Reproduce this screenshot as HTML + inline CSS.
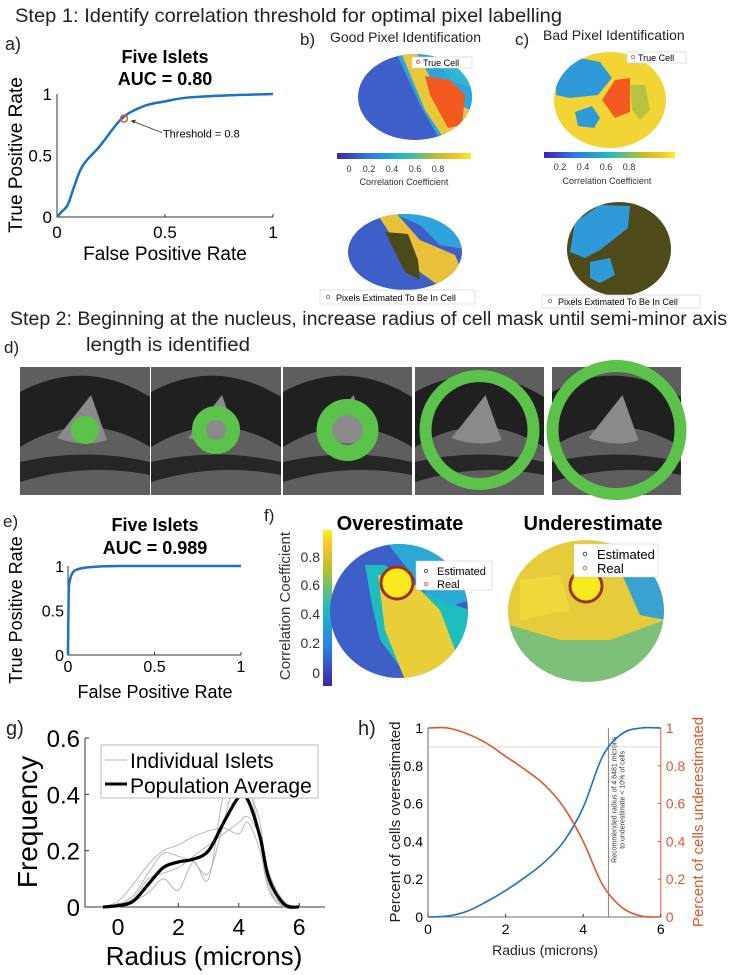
<!DOCTYPE html>
<html><head><meta charset="utf-8">
<style>
html,body{margin:0;padding:0;background:#fff;}
svg{display:block;font-family:"Liberation Sans",sans-serif;}
.hd{font-family:"Liberation Sans",sans-serif;font-size:19px;fill:#222;}
</style></head>
<body>
<svg id="fig" width="730" height="975" viewBox="0 0 730 975" xmlns="http://www.w3.org/2000/svg">
<defs>
<linearGradient id="parula" x1="0" x2="1" y1="0" y2="0">
<stop offset="0" stop-color="#3e26a8"/><stop offset="0.25" stop-color="#2c7fe8"/><stop offset="0.5" stop-color="#1fbcbd"/><stop offset="0.75" stop-color="#b8c12a"/><stop offset="0.9" stop-color="#f9c22e"/><stop offset="1" stop-color="#f8f418"/>
</linearGradient>
<linearGradient id="parulaV" x1="0" x2="0" y1="1" y2="0">
<stop offset="0" stop-color="#3e26a8"/><stop offset="0.25" stop-color="#2c7fe8"/><stop offset="0.5" stop-color="#1fbcbd"/><stop offset="0.75" stop-color="#b8c12a"/><stop offset="0.9" stop-color="#f9c22e"/><stop offset="1" stop-color="#f8f418"/>
</linearGradient>
<clipPath id="cb1"><ellipse cx="415" cy="97" rx="57" ry="43"/></clipPath>
<clipPath id="cc1"><ellipse cx="610" cy="100" rx="56" ry="48"/></clipPath>
<clipPath id="cb2"><ellipse cx="405" cy="252" rx="57" ry="38"/></clipPath>
<clipPath id="cc2"><ellipse cx="619" cy="249" rx="52" ry="47"/></clipPath>
<clipPath id="cf1"><ellipse cx="399" cy="611" rx="69" ry="67"/></clipPath>
<clipPath id="cf2"><ellipse cx="586" cy="611" rx="78" ry="71"/></clipPath>
</defs>

<text class="hd" x="15" y="22" textLength="547" lengthAdjust="spacingAndGlyphs">Step 1: Identify correlation threshold for optimal pixel labelling</text>

<g id="pa">
<text x="5" y="50" font-size="18" fill="#222">a)</text>
<text x="165" y="63" font-size="18" font-weight="bold" text-anchor="middle">Five Islets</text>
<text x="165" y="85" font-size="18" font-weight="bold" text-anchor="middle">AUC = 0.80</text>
<text transform="translate(22,155) rotate(-90)" font-size="19" text-anchor="middle">True Positive Rate</text>
<text x="165" y="260" font-size="19" text-anchor="middle">False Positive Rate</text>
</g>

<g>
<text x="300" y="45" font-size="17" fill="#222">b)</text>
<text x="330" y="42" font-size="14" fill="#222">Good Pixel Identification</text>
<g clip-path="url(#cb1)">
<rect x="350" y="50" width="130" height="100" fill="#3f5fc8"/>
<path d="M395 50 L480 50 L480 130 L440 140 L420 105 Z" fill="#2fa3dc"/>
<path d="M400 50 L415 50 L440 95 L470 110 L480 140 L445 140 L425 110 Z" fill="#e8c83a"/>
<path d="M430 50 L470 50 L475 90 L450 80 Z" fill="#30b4d0"/>
<path d="M425 76 L450 80 L465 95 L462 125 L448 128 L430 95 Z" fill="#f35a22"/>
</g>
<rect x="412" y="57" width="60" height="11" fill="#fff" stroke="#ccc" stroke-width="0.6"/>
<circle cx="418" cy="62" r="1.6" fill="none" stroke="#e66"/>
<text x="423" y="66" font-size="9">True Cell</text>
<rect x="337" y="153" width="134" height="6" fill="url(#parula)"/>
<g font-size="9" fill="#333" text-anchor="middle">
<text x="349" y="172">0</text><text x="369" y="172">0.2</text><text x="392" y="172">0.4</text><text x="415" y="172">0.6</text><text x="438" y="172">0.8</text>
<text x="404" y="185">Correlation Coefficient</text>
</g>
<g clip-path="url(#cb2)">
<rect x="345" y="210" width="125" height="85" fill="#3f5fc8"/>
<path d="M385 210 L470 210 L470 250 L440 245 L420 225 Z" fill="#2fa3dc"/>
<path d="M376 212 L395 212 L420 240 L455 255 L470 290 L445 290 L410 265 Z" fill="#e8c03a"/>
<path d="M385 232 L408 234 L418 260 L420 280 L405 272 Z" fill="#4a4a18"/>
</g>
<rect x="320" y="290" width="155" height="14" fill="#fff" stroke="#ccc" stroke-width="0.6"/>
<circle cx="328" cy="297" r="1.6" fill="none" stroke="#888"/>
<text x="336" y="301" font-size="9">Pixels Extimated To Be In Cell</text>
</g>

<g>
<text x="515" y="45" font-size="17" fill="#222">c)</text>
<text x="543" y="40" font-size="14" fill="#222">Bad Pixel Identification</text>
<g clip-path="url(#cc1)">
<rect x="550" y="50" width="125" height="100" fill="#f2d534"/>
<path d="M556 72 L580 58 L600 62 L612 78 L598 95 L570 98 L556 95 Z" fill="#2f9ad8"/>
<path d="M575 112 L592 106 L600 118 L594 128 L578 126 Z" fill="#2f9ad8"/>
<path d="M630 85 L645 85 L650 110 L640 120 L632 110 Z" fill="#b8c240"/>
<path d="M615 80 L630 78 L630 112 L615 118 L602 100 Z" fill="#f35a22"/>
</g>
<rect x="627" y="52" width="59" height="11" fill="#fff" stroke="#ccc" stroke-width="0.6"/>
<circle cx="633" cy="57" r="1.6" fill="none" stroke="#e66"/>
<text x="638" y="61" font-size="9">True Cell</text>
<rect x="544" y="152" width="131" height="6" fill="url(#parula)"/>
<g font-size="9" fill="#333" text-anchor="middle">
<text x="560" y="170">0.2</text><text x="583" y="170">0.4</text><text x="606" y="170">0.6</text><text x="629" y="170">0.8</text>
<text x="607" y="184">Correlation Coefficient</text>
</g>
<g clip-path="url(#cc2)">
<rect x="565" y="200" width="110" height="100" fill="#4e4a1a"/>
<path d="M575 222 L600 205 L630 206 L628 228 L600 250 L585 258 L570 252 Z" fill="#2f9ad8"/>
<path d="M590 262 L610 258 L615 275 L600 283 L590 278 Z" fill="#2f9ad8"/>
</g>
<rect x="542" y="295" width="158" height="13" fill="#fff" stroke="#ccc" stroke-width="0.6"/>
<circle cx="550" cy="301" r="1.6" fill="none" stroke="#888"/>
<text x="558" y="305" font-size="9">Pixels Extimated To Be In Cell</text>
</g>

<text class="hd" x="10" y="325" textLength="717" lengthAdjust="spacingAndGlyphs">Step 2: Beginning at the nucleus, increase radius of cell mask until semi-minor axis</text>
<text x="4" y="353" font-size="17" fill="#222">d)</text>
<text class="hd" x="86" y="351" textLength="164" lengthAdjust="spacingAndGlyphs">length is identified</text>

<g id="pd"></g>

<g id="pe">
<text x="3" y="527" font-size="17" fill="#222">e)</text>
<text x="155" y="531" font-size="18" font-weight="bold" text-anchor="middle">Five Islets</text>
<text x="155" y="554" font-size="18" font-weight="bold" text-anchor="middle">AUC = 0.989</text>
<text transform="translate(22,610) rotate(-90)" font-size="18" text-anchor="middle">True Positive Rate</text>
<text x="155" y="698" font-size="18" text-anchor="middle">False Positive Rate</text>
</g>

<g>
<text x="264" y="521" font-size="17" fill="#222">f)</text>
<text x="400" y="530" font-size="20" font-weight="bold" text-anchor="middle">Overestimate</text>
<text x="593" y="530" font-size="20" font-weight="bold" text-anchor="middle">Underestimate</text>
<rect x="323" y="530" width="9" height="156" fill="url(#parulaV)"/>
<g font-size="14" fill="#333" text-anchor="end">
<text x="320" y="562">0.8</text><text x="320" y="590">0.6</text><text x="320" y="619">0.4</text><text x="320" y="648">0.2</text><text x="320" y="678">0</text>
</g>
<text transform="translate(290,606) rotate(-90)" font-size="15" text-anchor="middle" fill="#333">Correlation Coefficient</text>
<g clip-path="url(#cf1)">
<rect x="325" y="540" width="150" height="145" fill="#3f5fc8"/>
<path d="M385 540 L470 540 L470 600 L440 610 L420 585 Z" fill="#2aa8d6"/>
<path d="M365 565 L385 565 L410 585 L440 600 L470 610 L470 680 L410 680 L380 640 L372 605 Z" fill="#1fbcbd"/>
<path d="M378 575 L410 580 L440 610 L455 650 L440 680 L405 680 L385 630 Z" fill="#e8cf3a"/>
<circle cx="397" cy="583" r="15" fill="#f8ea20"/>
<circle cx="397" cy="583" r="16" fill="none" stroke="#a03020" stroke-width="3"/>
</g>
<rect x="416" y="561" width="76" height="29" fill="#fff" stroke="#ccc" stroke-width="0.6"/>
<circle cx="426" cy="571" r="1.6" fill="none" stroke="#555"/><circle cx="426" cy="584" r="1.6" fill="none" stroke="#e66"/>
<text x="437" y="575" font-size="11">Estimated</text>
<text x="437" y="588" font-size="11">Real</text>
<g clip-path="url(#cf2)">
<rect x="505" y="535" width="165" height="150" fill="#e6cc3a"/>
<path d="M510 625 L560 640 L610 640 L665 620 L665 685 L505 685 Z" fill="#7cc07a"/>
<path d="M620 570 L665 560 L665 620 L640 615 Z" fill="#3aa2d0"/>
<path d="M520 580 L560 575 L570 610 L520 620 Z" fill="#f0d73a"/>
<circle cx="586" cy="586" r="15" fill="#f8ea20"/>
<circle cx="586" cy="586" r="16" fill="none" stroke="#a03020" stroke-width="3"/>
</g>
<rect x="574" y="544" width="84" height="33" fill="#fff" stroke="#ccc" stroke-width="0.6"/>
<circle cx="585" cy="554" r="1.8" fill="none" stroke="#555"/><circle cx="585" cy="568" r="1.8" fill="none" stroke="#e66"/>
<text x="597" y="559" font-size="13">Estimated</text>
<text x="597" y="573" font-size="13">Real</text>
</g>

<g id="pg">
<text x="6" y="735" font-size="20" fill="#222">g)</text>
<text transform="translate(37,822) rotate(-90)" font-size="28" text-anchor="middle">Frequency</text>
<text x="204" y="965" font-size="26" text-anchor="middle">Radius (microns)</text>
</g>

<g id="ph">
<text x="358" y="735" font-size="20" fill="#222">h)</text>
<text transform="translate(400,822) rotate(-90)" font-size="15" text-anchor="middle" fill="#222">Percent of cells overestimated</text>
<text transform="translate(703,822) rotate(-90)" font-size="15" text-anchor="middle" fill="#e0592a">Percent of cells underestimated</text>
<text x="545" y="955" font-size="14" text-anchor="middle" fill="#222">Radius (microns)</text>
</g>
</svg>

<script>
const aFpr = [0,0.02,0.05,0.08,0.12,0.2,0.3,0.4,0.5,0.6,0.8,1];
const aTpr = [0,0.04,0.1,0.25,0.42,0.58,0.8,0.9,0.94,0.97,0.99,1];
const aThreshold = [0.31,0.8];
const rocTicks = [0,0.5,1];
const rocTickLabels = ["0","0.5","1"];
const eFpr = [0,0.004,0.01,0.02,0.04,0.08,0.15,0.3,1];
const eTpr = [0,0.7,0.83,0.9,0.95,0.975,0.99,1,1];
const dOuter = [14,24,31,60,70];
const dInner = [0,10,15,48,58];
const gRadius = [-0.5,0,0.5,1,1.5,2,2.5,3,3.5,4,4.3,4.7,5,5.5,6];
const gAvg = [0,0.005,0.02,0.08,0.14,0.16,0.17,0.2,0.3,0.39,0.38,0.25,0.1,0.01,0];
const gIslet1 = [0,0.01,0.04,0.12,0.19,0.18,0.16,0.12,0.3,0.5,0.45,0.25,0.06,0,0];
const gIslet2 = [0,0.02,0.08,0.15,0.2,0.22,0.25,0.27,0.28,0.26,0.3,0.2,0.06,0.01,0];
const gIslet3 = [0,0,0.02,0.05,0.1,0.06,0.16,0.1,0.4,0.45,0.42,0.3,0.08,0,0];
const gIslet4 = [0,0.01,0.03,0.1,0.12,0.14,0.18,0.22,0.26,0.3,0.32,0.25,0.12,0.02,0];
const gTicksX = [0,2,4,6];
const gTicksY = [0,0.2,0.4,0.6];
const hRadius = [0,0.5,1,1.5,2,2.5,3,3.5,4,4.5,5,5.5,6];
const hOver = [0,0.005,0.03,0.08,0.14,0.21,0.29,0.4,0.58,0.85,0.97,1,1];
const hUnder = [1,1,0.97,0.92,0.85,0.78,0.7,0.58,0.4,0.17,0.05,0.005,0];
const hRecommended = 4.6481;
const hCutoff = 0.9;
const hTicksX = [0,2,4,6];
const hTicksY = [0,0.2,0.4,0.6,0.8,1];
const hTickLabels = ["0","0.2","0.4","0.6","0.8","1"];

const NS = "http://www.w3.org/2000/svg";
function mk(parent, tag, attrs){const e=document.createElementNS(NS,tag);for(const k in attrs)e.setAttribute(k,attrs[k]);parent.appendChild(e);return e;}
function smooth(pts){let d="M"+pts[0][0]+" "+pts[0][1];for(let i=0;i<pts.length-1;i++){const p0=pts[i-1]||pts[i],p1=pts[i],p2=pts[i+1],p3=pts[i+2]||p2;d+=" C"+(p1[0]+(p2[0]-p0[0])/6)+" "+(p1[1]+(p2[1]-p0[1])/6)+" "+(p2[0]-(p3[0]-p1[0])/6)+" "+(p2[1]-(p3[1]-p1[1])/6)+" "+p2[0]+" "+p2[1];}return d;}

(function(){
const g=document.getElementById('pa');
const sx=v=>57+v*216, sy=v=>217-v*123;
const ax=mk(g,'path',{d:`M${sx(0)} ${sy(1)} L${sx(0)} ${sy(0)} L${sx(1)} ${sy(0)}`,fill:'none',stroke:'#333','stroke-width':1});


rocTicks.forEach((t,i)=>{
 mk(g,'line',{x1:sx(t),x2:sx(t),y1:sy(0),y2:sy(0)-3,stroke:'#333'});
 const tx=mk(g,'text',{x:sx(t),y:sy(0)+21,'font-size':17,'text-anchor':'middle'});tx.textContent=rocTickLabels[i];
 
 
 const ty=mk(g,'text',{x:sx(0)-5,y:sy(t)+6,'font-size':17,'text-anchor':'end'});ty.textContent=rocTickLabels[i];
 
 
});
const c=mk(g,'path',{d:smooth(aFpr.map((f,i)=>[sx(f),sy(aTpr[i])])),fill:'none',stroke:'#1a73c0','stroke-width':2.5});


const p=mk(g,'circle',{cx:sx(aThreshold[0]),cy:sy(aThreshold[1]),r:3.5,fill:'none',stroke:'#e0592a','stroke-width':1.5});


mk(g,'line',{x1:sx(aThreshold[0])+38,y1:sy(aThreshold[1])+14,x2:sx(aThreshold[0])+7,y2:sy(aThreshold[1])+2,stroke:'#333','stroke-width':0.8});
mk(g,'path',{d:`M${sx(aThreshold[0])+7} ${sy(aThreshold[1])+2} l5 -1 l-2 4 z`,fill:'#333'});
const t=mk(g,'text',{x:sx(aThreshold[0])+39,y:sy(aThreshold[1])+19,'font-size':11});t.textContent='Threshold = 0.8';


})();

(function(){
const g=document.getElementById('pd');
const xs=[20,151,283,415,552], ws=[130,130,129,129,129];
dOuter.forEach((ro,i)=>{
 const x=xs[i],w=ws[i],y=367,h=128,cx=x+w/2,cy=430;
 const p=mk(g,'g',{});
 
 
 mk(p,'rect',{x:x,y:y,width:w,height:h,fill:'#5e5e5e'});
 mk(p,'path',{d:`M${x} ${y+25} Q${cx} ${y-10} ${x+w} ${y+30} L${x+w} ${y+80} Q${cx} ${y+40} ${x} ${y+80} Z`,fill:'#151515',opacity:0.85});
 mk(p,'path',{d:`M${x} ${y+95} Q${cx} ${y+80} ${x+w} ${y+95} L${x+w} ${y+108} Q${cx} ${y+95} ${x} ${y+115} Z`,fill:'#1c1c1c',opacity:0.85});
 mk(p,'path',{d:`M${cx-28} ${cy+8} L${cx+6} ${cy-35} L${cx+22} ${cy+10} Q${cx} ${cy+18} ${cx-28} ${cy+8} Z`,fill:'#8a8a8a'});
 mk(p,'circle',{cx:cx,cy:cy,r:(ro+dInner[i])/2,fill:'none',stroke:'#5bc24a','stroke-width':ro-dInner[i]});
 if(dInner[i]===0) mk(p,'circle',{cx:cx,cy:cy,r:ro,fill:'#5bc24a'});
});
})();

(function(){
const g=document.getElementById('pe');
const sx=v=>68+v*173, sy=v=>655-v*89;
mk(g,'path',{d:`M${sx(0)} ${sy(1)} L${sx(0)} ${sy(0)} L${sx(1)} ${sy(0)}`,fill:'none',stroke:'#333'});
rocTicks.forEach((t,i)=>{
 mk(g,'line',{x1:sx(t),x2:sx(t),y1:sy(0),y2:sy(0)-3,stroke:'#333'});
 const tx=mk(g,'text',{x:sx(t),y:sy(0)+17,'font-size':16,'text-anchor':'middle'});tx.textContent=rocTickLabels[i];
 
 
 const ty=mk(g,'text',{x:sx(0)-4,y:sy(t)+6,'font-size':16,'text-anchor':'end'});ty.textContent=rocTickLabels[i];
 
 
});
const c=mk(g,'path',{d:smooth(eFpr.map((f,i)=>[sx(f),sy(eTpr[i])])),fill:'none',stroke:'#1a73c0','stroke-width':2.5});


})();

(function(){
const g=document.getElementById('pg');
const sx=v=>118+v*30.2, sy=v=>907-v*281.7;
mk(g,'path',{d:`M85 ${sy(0.6)} L85 ${sy(0)} L325 ${sy(0)}`,fill:'none',stroke:'#333'});
gTicksX.forEach(t=>{mk(g,'line',{x1:sx(t),x2:sx(t),y1:sy(0),y2:sy(0)-4,stroke:'#333'});
 const tx=mk(g,'text',{x:sx(t),y:sy(0)+28,'font-size':23,'text-anchor':'middle'});tx.textContent=String(t);
 
 });
gTicksY.forEach(t=>{mk(g,'line',{x1:85,x2:89,y1:sy(t),y2:sy(t),stroke:'#333'});
 const ty=mk(g,'text',{x:80,y:sy(t)+9,'font-size':24,'text-anchor':'end'});ty.textContent=String(t);
 
 });
[gIslet1,gIslet2,gIslet3,gIslet4].forEach((s,k)=>{
 const l=mk(g,'path',{d:smooth(gRadius.map((r,i)=>[sx(r),sy(s[i])])),fill:'none',stroke:'#b8b8b8','stroke-width':1});
 
 
});
const a=mk(g,'path',{d:smooth(gRadius.map((r,i)=>[sx(r),sy(gAvg[i])])),fill:'none',stroke:'#000','stroke-width':3.2});


const lg=mk(g,'g',{});


mk(lg,'rect',{x:101,y:745,width:217,height:53,fill:'#fff',stroke:'#aaa','stroke-width':0.8});
mk(lg,'line',{x1:105,x2:127,y1:760,y2:760,stroke:'#b8b8b8'});
mk(lg,'line',{x1:105,x2:127,y1:784,y2:784,stroke:'#000','stroke-width':3});
const t1=mk(lg,'text',{x:130,y:768,'font-size':21});t1.textContent='Individual Islets';
const t2=mk(lg,'text',{x:130,y:793,'font-size':21});t2.textContent='Population Average';
})();

(function(){
const g=document.getElementById('ph');
const sx=v=>428+v*38.8, sy=v=>917-v*189;
mk(g,'path',{d:`M${sx(0)} ${sy(1)} L${sx(0)} ${sy(0)} L${sx(6)} ${sy(0)}`,fill:'none',stroke:'#444','stroke-width':0.8});
mk(g,'line',{x1:sx(6),x2:sx(6),y1:sy(1),y2:sy(0),stroke:'#e0592a'});
hTicksX.forEach(t=>{mk(g,'line',{x1:sx(t),x2:sx(t),y1:sy(0),y2:sy(0)-3,stroke:'#333'});
 const tx=mk(g,'text',{x:sx(t),y:sy(0)+17,'font-size':14,'text-anchor':'middle'});tx.textContent=String(t);
 
 });
hTicksY.forEach((t,i)=>{
 const ty=mk(g,'text',{x:sx(0)-5,y:sy(t)+5,'font-size':14,'text-anchor':'end'});ty.textContent=hTickLabels[i];
 
 
 mk(g,'line',{x1:sx(6),x2:sx(6)-3,y1:sy(t),y2:sy(t),stroke:'#e0592a'});
 const tr=mk(g,'text',{x:sx(6)+5,y:sy(t)+5,'font-size':14,fill:'#e0592a'});tr.textContent=hTickLabels[i];
 
 
});
const hl=mk(g,'line',{x1:sx(0),x2:sx(6),y1:sy(hCutoff),y2:sy(hCutoff),stroke:'#ccc','stroke-width':0.8});


const vl=mk(g,'line',{x1:sx(hRecommended),x2:sx(hRecommended),y1:sy(1),y2:sy(0),stroke:'#666','stroke-width':0.8});


const an=mk(g,'text',{transform:`translate(${sx(hRecommended)+8},${sy(0.62)}) rotate(-90)`,'font-size':7,'text-anchor':'middle',fill:'#333'});
an.textContent='Recommended radius of 4.6481 microns';


const an2=mk(g,'text',{transform:`translate(${sx(hRecommended)+16},${sy(0.62)}) rotate(-90)`,'font-size':7,'text-anchor':'middle',fill:'#333'});
an2.textContent='to underestimate < 10% of cells';
const b=mk(g,'path',{d:smooth(hRadius.map((r,i)=>[sx(r),sy(hOver[i])])),fill:'none',stroke:'#1a73c0','stroke-width':1.6});


const o=mk(g,'path',{d:smooth(hRadius.map((r,i)=>[sx(r),sy(hUnder[i])])),fill:'none',stroke:'#e0592a','stroke-width':1.6});


})();
</script>
</body></html>
